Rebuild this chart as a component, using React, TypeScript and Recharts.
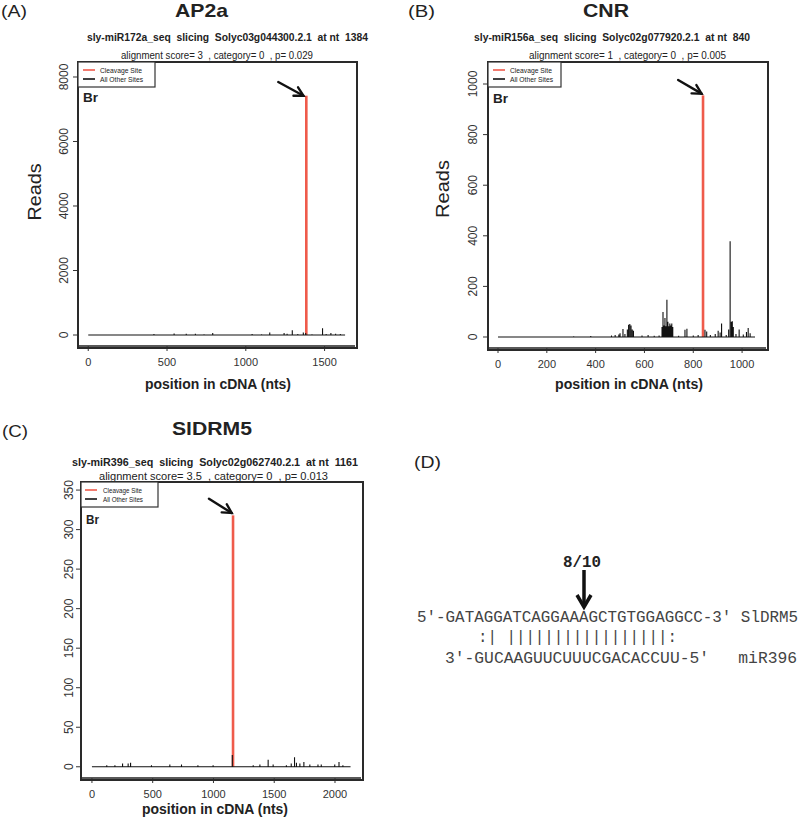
import React from 'react';
import { LineChart, Line, XAxis, YAxis, ReferenceLine } from 'recharts';

const FONT = '"Liberation Sans", Arial, Helvetica, sans-serif';
const MONO = '"Liberation Mono", "Courier New", monospace';
const RED = '#EF5B4B';
const INK = '#333';

// (A) AP2a — reads per position
const ap2aPos = [120, 250, 417, 545, 622, 680, 735, 790, 900, 1040, 1100, 1152, 1243, 1262, 1295, 1330, 1365, 1380, 1420, 1487, 1510, 1540, 1570, 1600];
const ap2aReads = [10, 8, 30, 50, 40, 40, 20, 60, 15, 30, 20, 80, 60, 40, 150, 30, 80, 60, 20, 210, 30, 60, 40, 30];
const ap2aLength = 1630;
const ap2aCut = 1384;
const ap2aCutReads = 7420;
const ap2aTicksX = [0, 500, 1000, 1500];
const ap2aTicksY = [0, 2000, 4000, 6000, 8000];

// (B) CNR
const cnrPos = [310, 380, 465, 480, 495, 500, 512, 520, 530, 535, 540, 545, 550, 555, 590, 615, 640, 660, 672, 676, 680, 684, 688, 692, 696, 700, 704, 708, 712, 716, 740, 766, 774, 800, 820, 848, 855, 870, 890, 902, 910, 916, 935, 945, 951, 956, 960, 964, 975, 988, 1005, 1018, 1025, 1033];
const cnrReads = [3, 4, 6, 8, 10, 15, 32, 12, 30, 48, 51, 45, 30, 25, 6, 8, 5, 6, 40, 99, 45, 75, 42, 147, 60, 42, 53, 45, 53, 40, 5, 29, 33, 6, 8, 29, 22, 8, 12, 25, 18, 53, 8, 30, 378, 60, 62, 40, 12, 30, 10, 20, 36, 15];
const cnrLength = 1053;
const cnrCut = 840;
const cnrCutReads = 955;
const cnrTicksX = [0, 200, 400, 600, 800, 1000];
const cnrTicksY = [0, 200, 400, 600, 800, 1000];

// (C) SlDRM5
const drmPos = [122, 189, 252, 298, 318, 490, 641, 737, 872, 997, 1155, 1327, 1382, 1450, 1491, 1600, 1640, 1667, 1683, 1711, 1744, 1793, 1860, 1887, 1998, 2033, 2065];
const drmReads = [2, 2, 4, 4, 5, 2, 3, 3, 2, 2, 15, 2, 3, 9, 3, 2, 4, 12, 5, 4, 6, 3, 3, 3, 3, 6, 2];
const drmLength = 2128;
const drmCut = 1161;
const drmCutReads = 318;
const drmTicksX = [0, 500, 1000, 1500, 2000];
const drmTicksY = [0, 50, 100, 150, 200, 250, 300, 350];

function spikes(pos: number[], reads: number[], end: number) {
  const pts: { x: number; y: number }[] = [{ x: 0, y: 0 }];
  pos.forEach((p, i) => {
    pts.push({ x: p, y: 0 }, { x: p, y: reads[i] }, { x: p, y: 0 });
  });
  pts.push({ x: end, y: 0 });
  return pts;
}

const VTick = (props: any) => {
  const { x, y, payload } = props;
  return (
    <text transform={`translate(${x},${y}) rotate(-90)`} textAnchor="middle" fontSize={12} fill={INK} fontFamily={FONT}>
      {payload.value}
    </text>
  );
};

const ArrowShape = (props: any) => {
  const { x1, y1, x2, y2 } = props;
  if ([x1, y1, x2, y2].some((v) => typeof v !== 'number' || isNaN(v))) return <g />;
  const a = Math.atan2(y2 - y1, x2 - x1);
  const len = 10;
  const s = 0.5;
  const p1 = `${x2 - len * Math.cos(a - s)},${y2 - len * Math.sin(a - s)}`;
  const p2 = `${x2 - len * Math.cos(a + s)},${y2 - len * Math.sin(a + s)}`;
  return (
    <g stroke="#111" strokeWidth={2.4} fill="none" strokeLinecap="round">
      <line x1={x1} y1={y1} x2={x2} y2={y2} />
      <polyline points={`${p1} ${x2},${y2} ${p2}`} />
    </g>
  );
};

const panels = [
  {
    pos: ap2aPos, reads: ap2aReads, length: ap2aLength, cut: ap2aCut, cutReads: ap2aCutReads,
    xTicks: ap2aTicksX, yTicks: ap2aTicksY, xDomain: [-65, 1693], yDomain: [-341, 8465],
    arrow: [{ x: 1206, y: 7845 }, { x: 1366, y: 7420 }],
    left: 0, top: 0, width: 400, height: 400, margin: { top: 62, right: 45, bottom: 24, left: 38 }, yMargin: 5,
  },
  {
    pos: cnrPos, reads: cnrReads, length: cnrLength, cut: cnrCut, cutReads: cnrCutReads,
    xTicks: cnrTicksX, yTicks: cnrTicksY, xDomain: [-41, 1098], yDomain: [-43.5, 1087],
    arrow: [{ x: 738, y: 1016 }, { x: 834, y: 962 }],
    left: 400, top: 0, width: 400, height: 400, margin: { top: 62, right: 34, bottom: 22, left: 48 }, yMargin: 6,
  },
  {
    pos: drmPos, reads: drmReads, length: drmLength, cut: drmCut, cutReads: drmCutReads,
    xTicks: drmTicksX, yTicks: drmTicksY, xDomain: [-90, 2214], yDomain: [-14.2, 360.2],
    arrow: [{ x: 963, y: 339 }, { x: 1150, y: 321 }],
    left: 0, top: 420, width: 400, height: 399, margin: { top: 62, right: 39, bottom: 11, left: 41 }, yMargin: 3,
  },
];

function Panel({ cfg }: { cfg: any }) {
  const black = spikes(cfg.pos, cfg.reads, cfg.length);
  const red = [{ x: cfg.cut, y: 0 }, { x: cfg.cut, y: cfg.cutReads }];
  const m = cfg.margin;
  const plotLeft = m.left + 40;
  const plotW = cfg.width - plotLeft - m.right;
  const plotH = cfg.height - m.top - m.bottom - 30;
  return (
    <div style={{ position: 'absolute', left: cfg.left, top: cfg.top, width: cfg.width, height: cfg.height }}>
      <LineChart width={cfg.width} height={cfg.height} margin={cfg.margin}>
        <XAxis dataKey="x" type="number" domain={cfg.xDomain} ticks={cfg.xTicks} allowDataOverflow interval={0}
          axisLine={{ stroke: '#222', strokeWidth: 1.5 }} tickSize={5} tickMargin={7} height={30} tickLine={{ stroke: INK }}
          tick={{ fill: INK, fontSize: 11, fontFamily: FONT }} />
        <YAxis type="number" domain={cfg.yDomain} ticks={cfg.yTicks} allowDataOverflow interval={0}
          axisLine={{ stroke: '#222', strokeWidth: 1.5 }} tickSize={5} tickMargin={cfg.yMargin} width={40} tickLine={{ stroke: INK }}
          tick={(p: any) => <VTick {...p} />} />
        <Line data={red} dataKey="y" stroke={RED} strokeWidth={2.6} dot={false} isAnimationActive={false} />
        <Line data={black} dataKey="y" stroke="#111" strokeWidth={1.1} dot={false} isAnimationActive={false} />
        <ReferenceLine segment={cfg.arrow} ifOverflow="visible" shape={(p: any) => <ArrowShape {...p} />} />
      </LineChart>
      {/* plot frame */}
      <div style={{
        position: 'absolute', left: plotLeft - 1, top: m.top - 1, width: plotW, height: plotH,
        border: '2px solid #2a2a2a', boxSizing: 'content-box', pointerEvents: 'none',
      }} />
    </div>
  );
}

function T({ x, y, w, size, bold, anchor = 'start', family = FONT, fill = '#222', rot, children }: any) {
  const extra: any = w ? { textLength: w, lengthAdjust: 'spacingAndGlyphs' } : {};
  return (
    <text x={rot ? 0 : x} y={rot ? 0 : y} transform={rot ? `translate(${x},${y}) rotate(-90)` : undefined}
      fontSize={size} fontWeight={bold ? 'bold' : 'normal'} fontFamily={family} fill={fill}
      textAnchor={anchor} style={{ whiteSpace: 'pre' }} {...extra}>
      {children}
    </text>
  );
}

function LegendBox({ x, y, w, lx, tx, tw }: any) {
  return (
    <g>
      <rect x={x} y={y} width={w} height={25} fill="#fff" stroke={INK} strokeWidth={1.2} />
      <line x1={lx} x2={lx + 12} y1={y + 8} y2={y + 8} stroke={RED} strokeWidth={1.6} />
      <line x1={lx} x2={lx + 12} y1={y + 17} y2={y + 17} stroke="#111" strokeWidth={1.6} />
      <T x={tx} y={y + 10.5} size={7} w={tw}>Cleavage Site</T>
      <T x={tx} y={y + 19.5} size={7} w={tw + 1}>All Other Sites</T>
    </g>
  );
}

export default function App() {
  return (
    <div style={{ position: 'absolute', left: 0, top: 0, width: 800, height: 819, background: '#fff' }}>
      {panels.map((cfg, i) => <Panel key={i} cfg={cfg} />)}
      <svg width={800} height={819} style={{ position: 'absolute', left: 0, top: 0, pointerEvents: 'none' }}>
        {/* (A) */}
        <T x={1} y={17} size={16} w={26}>(A)</T>
        <T x={175} y={17} size={19} bold w={53}>AP2a</T>
        <T x={87} y={41} size={10} bold w={281}>{'sly-miR172a_seq  slicing  Solyc03g044300.2.1  at nt  1384'}</T>
        <T x={121} y={58.5} size={10} w={192}>{'alignment score= 3  , category= 0  , p= 0.029'}</T>
        <LegendBox x={78} y={62} w={77} lx={83} tx={100} tw={42} />
        <T x={83} y={102} size={13} bold w={15}>Br</T>
        <T x={41} y={192} size={19} w={57} anchor="middle" rot>Reads</T>
        <T x={218} y={389} size={14.5} bold w={146} anchor="middle">position in cDNA (nts)</T>

        {/* (B) */}
        <T x={408} y={17} size={16} w={27}>(B)</T>
        <T x={583} y={17} size={19} bold w={46}>CNR</T>
        <T x={474} y={41} size={10} bold w={276}>{'sly-miR156a_seq  slicing  Solyc02g077920.2.1  at nt  840'}</T>
        <T x={529} y={58.5} size={10} w={197}>{'alignment score= 1  , category= 0  , p= 0.005'}</T>
        <LegendBox x={488} y={62} w={73} lx={493} tx={510} tw={42} />
        <T x={493} y={103} size={13} bold w={15}>Br</T>
        <T x={449} y={189} size={19} w={58} anchor="middle" rot>Reads</T>
        <T x={629} y={389} size={14.5} bold w={148} anchor="middle">position in cDNA (nts)</T>

        {/* (C) */}
        <T x={2} y={437} size={16} w={26}>(C)</T>
        <T x={172} y={435} size={19} bold w={80}>SlDRM5</T>
        <T x={72} y={466} size={10} bold w={286}>{'sly-miR396_seq  slicing  Solyc02g062740.2.1  at nt  1161'}</T>
        <T x={99} y={480} size={10} w={229}>{'alignment score= 3.5  , category= 0  , p= 0.013'}</T>
        <LegendBox x={81} y={482} w={77} lx={85} tx={103} tw={39} />
        <T x={86} y={524} size={13} bold w={13}>Br</T>
        <T x={215} y={814} size={14.5} bold w={146} anchor="middle">position in cDNA (nts)</T>

        {/* (D) */}
        <T x={414} y={468} size={16} w={27}>(D)</T>
        <T x={563} y={567} size={16} bold family={MONO} w={38}>8/10</T>
        <g stroke="#111" strokeWidth={3.5} fill="none">
          <line x1={584} y1={570} x2={584} y2={605} />
          <polyline points="577,595 584,607 591,595" strokeLinejoin="miter" />
        </g>
        <T x={417} y={622} size={16} family={MONO} fill="#444" w={381}>{'5′-GATAGGATCAGGAAAGCTGTGGAGGCC-3′ SlDRM5'}</T>
        <T x={478} y={642} size={16} family={MONO} fill="#444" w={199}>{':| |||||||||||||||||:'}</T>
        <T x={445} y={663} size={16} family={MONO} fill="#444" w={352}>{'3′-GUCAAGUUCUUUCGACACCUU-5′   miR396'}</T>
      </svg>
    </div>
  );
}
